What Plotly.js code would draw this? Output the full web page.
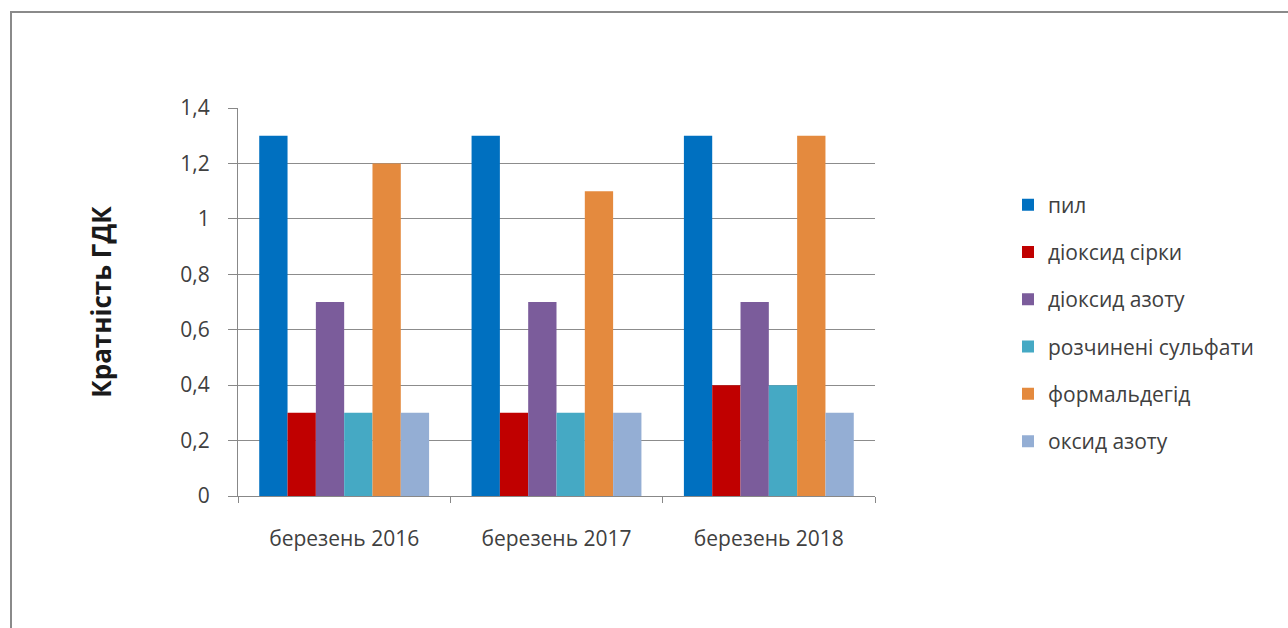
<!DOCTYPE html>
<html><head><meta charset="utf-8">
<script src="https://cdn.plot.ly/plotly-3.0.1.min.js"></script>
<style>
html,body{margin:0;padding:0;background:#fff;}
#frame{position:absolute;left:10px;top:11px;width:1290px;height:630px;border-left:2px solid #8a8a8a;border-top:2px solid #8a8a8a;box-sizing:border-box;pointer-events:none;}
#chart{width:1288px;height:628px;}
</style></head><body>
<div id="chart"></div>
<div id="frame"></div>
<script>
const categories = ["березень 2016", "березень 2017", "березень 2018"];
const seriesNames = ["пил", "діоксид сірки", "діоксид азоту", "розчинені сульфати", "формальдегід", "оксид азоту"];
const pil = [1.3, 1.3, 1.3];
const dioksydSirky = [0.3, 0.3, 0.4];
const dioksydAzotu = [0.7, 0.7, 0.7];
const sulfaty = [0.3, 0.3, 0.4];
const formaldehid = [1.2, 1.1, 1.3];
const oksydAzotu = [0.3, 0.3, 0.3];
const colors = ["#0070C0", "#C00000", "#7B5C9B", "#45A9C4", "#E48A3E", "#94AED4"];
const tickVals = [0, 0.2, 0.4, 0.6, 0.8, 1, 1.2, 1.4];
const tickText = ["0", "0,2", "0,4", "0,6", "0,8", "1", "1,2", "1,4"];

const values = [pil, dioksydSirky, dioksydAzotu, sulfaty, formaldehid, oksydAzotu];
const traces = values.map((v, i) => ({
  type: "bar", x: categories, y: v, name: seriesNames[i],
  marker: {color: colors[i]}, legendgroup: "g" + i, hoverinfo: "skip"
}));

const font = "Open Sans, Liberation Sans, sans-serif";
const L = 238, R = 413, T = 108, B = 132, W = 1288, H = 628;
const layout = {
  width: W, height: H,
  margin: {l: L, r: R, t: T, b: B},
  paper_bgcolor: "#fff", plot_bgcolor: "#fff",
  barmode: "group", bargap: 0.2, bargroupgap: 0,
  font: {family: font, color: "#404040", size: 21},
  xaxis: {
    type: "category", tickson: "boundaries", ticks: "outside", ticklen: 6, tickcolor: "#888",
    showline: true, linecolor: "#888", linewidth: 1, showgrid: false,
    ticklabelstandoff: 24,
    tickfont: {size: 21, family: font, color: "#404040"}
  },
  yaxis: {
    range: [0, 1.4], tickvals: tickVals, ticktext: tickText,
    ticks: "outside", ticklen: 9, tickcolor: "#888",
    showgrid: true, gridcolor: "#8c8c8c", gridwidth: 1,
    showline: true, linecolor: "#888", linewidth: 1, zeroline: false,
    ticklabelstandoff: 14,
    tickfont: {size: 21, family: font, color: "#404040"},
    title: {text: "<b>Кратність ГДК</b>", font: {size: 26, family: font, color: "#1a1a1a"}, standoff: 61}
  },
  showlegend: true,
  legend: {
    xref: "paper", yanchor: "middle",
    traceorder: "grouped", tracegroupgap: 17,
    font: {size: 21, family: font, color: "#404040"},
    itemwidth: 30
  }
};
layout.legend.x = (1008 - L) / (W - L - R);
layout.legend.y = 1 - ((323 - T) / (H - T - B));

Plotly.newPlot("chart", traces, layout, {displayModeBar: false, staticPlot: true});
</script>
</body></html>
